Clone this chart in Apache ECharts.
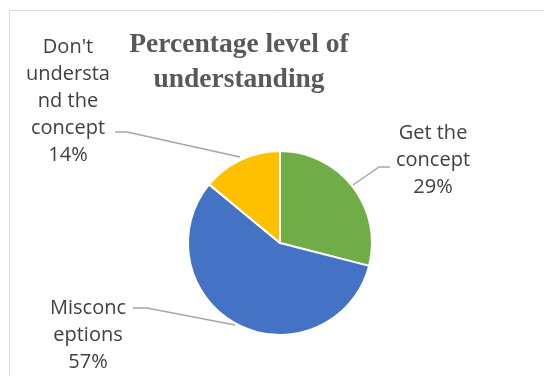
<!DOCTYPE html>
<html>
<head>
<meta charset="utf-8">
<script src="https://cdn.jsdelivr.net/npm/echarts@6/dist/echarts.min.js"></script>
<style>html,body{margin:0;padding:0;background:#fff}#c{width:544px;height:376px}</style>
</head>
<body>
<div id="c"></div>
<script>
var titleText = "Percentage level of\nunderstanding";
var categories = ["Get the concept", "Misconceptions", "Don't understand the concept"];
var labelText = ["Get the\nconcept", "Misconc\neptions", "Don't\nundersta\nnd the\nconcept"];
var values = [29, 57, 14];
var colors = ["#70AD47", "#4472C4", "#FFC000"];
var labelPos = [[433, 160], [88, 335], [68, 101]];
var leaderPts = [
  [[353, 185], [379, 167], [390, 167]],
  [[235, 325], [147, 308], [133, 308]],
  [[240, 157], [127, 132], [115, 132]]
];

var chart = echarts.init(document.getElementById('c'), null, {renderer: 'canvas'});
chart.setOption({
  backgroundColor: '#fff',
  animation: false,
  graphic: [{
    type: 'rect', shape: {x: 9.5, y: 10.5, width: 700, height: 500},
    style: {fill: 'none', stroke: '#d9d9d9', lineWidth: 1}, silent: true, z: -1
  }],
  title: {
    text: titleText,
    left: 234, top: 22, textAlign: 'center',
    textStyle: {fontFamily: 'Liberation Serif', fontWeight: 'bold', fontSize: 27.5, lineHeight: 35, color: '#595959'}
  },
  series: [{
    type: 'pie',
    center: [280, 243],
    radius: 92,
    startAngle: 90,
    clockwise: true,
    itemStyle: {borderColor: '#fff', borderWidth: 2},
    data: categories.map(function (c, i) {
      return {name: c, value: values[i], itemStyle: {color: colors[i]}};
    }),
    label: {
      show: true,
      formatter: function (p) { return labelText[p.dataIndex] + '\n' + Math.round(p.percent) + '%'; },
      fontFamily: 'Open Sans', fontSize: 20, lineHeight: 27, color: '#404040', align: 'center'
    },
    labelLine: {show: true, length: 20, length2: 12, lineStyle: {color: '#a6a6a6', width: 1.5}},
    labelLayout: function (p) {
      var pos = labelPos[p.dataIndex];
      return {x: pos[0], y: pos[1], align: 'center', verticalAlign: 'middle', labelLinePoints: leaderPts[p.dataIndex]};
    }
  }]
});
</script>
</body>
</html>
